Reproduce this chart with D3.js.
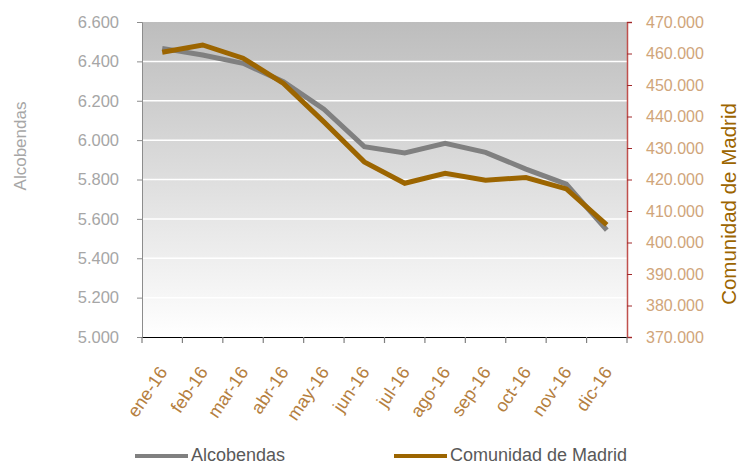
<!DOCTYPE html>
<html>
<head>
<meta charset="utf-8">
<script src="https://cdn.jsdelivr.net/npm/d3@7"></script>
<style>
body { margin: 0; background: #fff; }
svg { display: block; }
</style>
</head>
<body>
<div id="graphic"></div>
<script>
var months = ["ene-16", "feb-16", "mar-16", "abr-16", "may-16", "jun-16", "jul-16", "ago-16", "sep-16", "oct-16", "nov-16", "dic-16"];
var alcobendas = [6466, 6432, 6390, 6297, 6157, 5967, 5935, 5984, 5938, 5853, 5776, 5543];
var madrid = [460400, 462700, 458500, 450500, 438300, 425600, 418800, 422000, 419800, 420600, 417000, 405600];
var leftTicks = [5000, 5200, 5400, 5600, 5800, 6000, 6200, 6400, 6600];
var rightTicks = [370000, 380000, 390000, 400000, 410000, 420000, 430000, 440000, 450000, 460000, 470000];

var width = 741, height = 466;
var margin = { top: 22, right: 114, bottom: 129, left: 142 };
var chart_width = width - margin.left - margin.right;
var chart_height = height - margin.top - margin.bottom;

var fmt = function(d) {
	return d3.format(",.0f")(d).replace(/,/g, ".");
};

var svg = d3.select("#graphic")
	.append("svg")
	.attr("width", width)
	.attr("height", height);

var defs = svg.append("defs");
var grad = defs.append("linearGradient")
	.attr("id", "bg")
	.attr("x1", 0).attr("y1", 0).attr("x2", 0).attr("y2", 1);
grad.append("stop").attr("offset", "0%").attr("stop-color", "#bdbdbd");
grad.append("stop").attr("offset", "100%").attr("stop-color", "#ffffff");

var g = svg.append("g")
	.attr("transform", "translate(" + margin.left + "," + margin.top + ")");

var x = d3.scaleBand().domain(months).range([0, chart_width]);
var yL = d3.scaleLinear().domain([5000, 6600]).range([chart_height, 0]);
var yR = d3.scaleLinear().domain([370000, 470000]).range([chart_height, 0]);

g.append("rect")
	.attr("width", chart_width)
	.attr("height", chart_height)
	.attr("fill", "url(#bg)");

// gridlines
g.selectAll(".grid")
	.data(leftTicks.slice(1, -1))
	.enter()
	.append("line")
	.attr("x1", 0)
	.attr("x2", chart_width)
	.attr("y1", function(d) { return yL(d); })
	.attr("y2", function(d) { return yL(d); })
	.attr("stroke", "#ffffff")
	.attr("stroke-width", 1.5);

// left axis
var leftAxis = g.append("g")
	.call(d3.axisLeft(yL).tickValues(leftTicks).tickFormat(fmt).tickSize(5).tickPadding(18));
leftAxis.select(".domain").attr("stroke", "#8c8c8c");
leftAxis.selectAll(".tick line").attr("stroke", "#8c8c8c");
leftAxis.selectAll("text")
	.attr("fill", "#a6a6a6")
	.style("font-family", "'Liberation Sans', Arial, sans-serif")
	.style("font-size", "16.5px");

// right axis
var rightAxis = g.append("g")
	.attr("transform", "translate(" + chart_width + ",0)")
	.call(d3.axisRight(yR).tickValues(rightTicks).tickFormat(fmt).tickSize(5).tickPadding(14));
rightAxis.select(".domain").attr("stroke", "#c0504d").attr("stroke-width", 1.5);
rightAxis.selectAll(".tick line").attr("stroke", "#a0282a");
rightAxis.selectAll("text")
	.attr("fill", "#d0a57a")
	.style("font-family", "'Liberation Sans', Arial, sans-serif")
	.style("font-size", "16px");

// bottom axis
var xAxis = g.append("g")
	.attr("transform", "translate(0," + chart_height + ")")
	.call(d3.axisBottom(x).tickSize(0).tickFormat(""));
xAxis.select(".domain").attr("stroke", "#000").attr("stroke-width", 1);

g.selectAll(".xtick")
	.data(d3.range(months.length + 1))
	.enter()
	.append("line")
	.attr("x1", function(i) { return i * x.bandwidth(); })
	.attr("x2", function(i) { return i * x.bandwidth(); })
	.attr("y1", chart_height)
	.attr("y2", chart_height + 6)
	.attr("stroke", "#7f7f7f")
	.attr("stroke-width", 1.2);

g.selectAll(".xlabel")
	.data(months)
	.enter()
	.append("text")
	.attr("transform", function(d) {
		return "translate(" + (x(d) + x.bandwidth() / 2 + 6) + "," + (chart_height + 35) + ") rotate(-56)";
	})
	.attr("text-anchor", "end")
	.attr("fill", "#b5803f")
	.style("font-family", "'Liberation Sans', Arial, sans-serif")
	.style("font-size", "18px")
	.text(function(d) { return d; });

// lines
var lineL = d3.line()
	.x(function(d, i) { return x(months[i]) + x.bandwidth() / 2; })
	.y(function(d) { return yL(d); });
var lineR = d3.line()
	.x(function(d, i) { return x(months[i]) + x.bandwidth() / 2; })
	.y(function(d) { return yR(d); });

g.append("path")
	.datum(alcobendas)
	.attr("d", lineL)
	.attr("fill", "none")
	.attr("stroke", "#808080")
	.attr("stroke-width", 5);

g.append("path")
	.datum(madrid)
	.attr("d", lineR)
	.attr("fill", "none")
	.attr("stroke", "#9c6500")
	.attr("stroke-width", 5);

// axis titles
svg.append("text")
	.attr("transform", "translate(26," + (margin.top + 124) + ") rotate(-90)")
	.attr("text-anchor", "middle")
	.attr("fill", "#a6a6a6")
	.style("font-family", "'Liberation Sans', Arial, sans-serif")
	.style("font-size", "17px")
	.text("Alcobendas");

svg.append("text")
	.attr("transform", "translate(736," + (margin.top + 182) + ") rotate(-90)")
	.attr("text-anchor", "middle")
	.attr("fill", "#9c6500")
	.style("font-family", "'Liberation Sans', Arial, sans-serif")
	.style("font-size", "20.5px")
	.text("Comunidad de Madrid");

// legend
var legendData = [
	{ name: "Alcobendas", color: "#808080", x: 135 },
	{ name: "Comunidad de Madrid", color: "#9c6500", x: 394 }
];
var legend = svg.selectAll(".legend")
	.data(legendData)
	.enter()
	.append("g")
	.attr("transform", function(d) { return "translate(" + d.x + ",456)"; });
legend.append("line")
	.attr("x1", 0).attr("x2", 53)
	.attr("y1", 0).attr("y2", 0)
	.attr("stroke", function(d) { return d.color; })
	.attr("stroke-width", 4);
legend.append("text")
	.attr("x", 56)
	.attr("y", 5)
	.attr("fill", "#595959")
	.style("font-family", "'Liberation Sans', Arial, sans-serif")
	.style("font-size", "18px")
	.text(function(d) { return d.name; });
</script>
</body>
</html>
